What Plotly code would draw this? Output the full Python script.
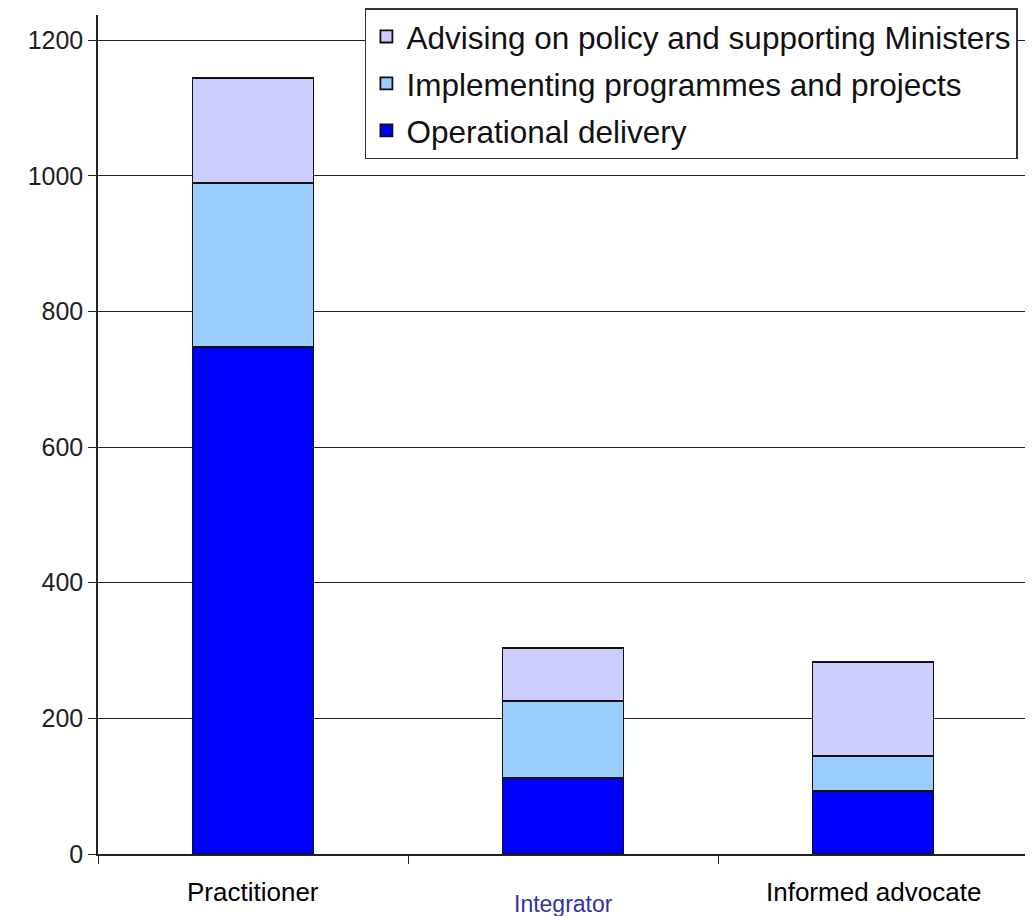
import plotly.graph_objects as go

categories = ["Practitioner", "Integrator", "Informed advocate"]
operational = [747, 112, 93]
implementing = [242, 114, 51]
advising = [155, 78, 139]
series_names = ["Operational delivery", "Implementing programmes and projects",
                "Advising on policy and supporting Ministers"]
y_ticks = [0, 200, 400, 600, 800, 1000, 1200]

colors = ["#0000ff", "#99ccff", "#ccccff"]

fig = go.Figure()
for i, (name, vals, col) in enumerate(zip(series_names, [operational, implementing, advising], colors)):
    fig.add_trace(go.Bar(
        x=categories, y=vals, name=name, legendgroup=f"g{i}",
        legendrank=1000 - i,
        marker=dict(color=col, line=dict(color="#111111", width=1.8)),
        width=0.39,
    ))

label_colors = ["#000000", "#333399", "#000000"]
label_sizes = [26, 23, 26]
label_y = [-0.045, -0.06, -0.045]
for cat, c, s, yy in zip(categories, label_colors, label_sizes, label_y):
    fig.add_annotation(x=cat, y=yy, xref="x", yref="paper", text=cat,
                       showarrow=False, yanchor="middle",
                       font=dict(family="Liberation Sans, Arial", size=s, color=c))

# small stray mark at right of legend in the original
fig.add_shape(type="rect", xref="paper", yref="paper",
              x0=0.9985, x1=1.003, y0=0.902, y1=0.918,
              fillcolor="#111111", line=dict(width=0))

fig.update_layout(
    barmode="stack",
    width=1025, height=908,
    margin=dict(l=90, r=5, t=7, b=62, autoexpand=False),
    paper_bgcolor="white", plot_bgcolor="white",
    font=dict(family="Liberation Sans, Arial", size=24, color="#222222"),
    showlegend=True,
    legend=dict(
        xref="paper", yref="container",
        x=0.287, y=1.0, xanchor="left", yanchor="top",
        traceorder="grouped",
        bordercolor="#333333", borderwidth=1.5,
        bgcolor="white",
        font=dict(size=31.5, color="#111111"),
        itemwidth=30,
        tracegroupgap=3,
    ),
    xaxis=dict(
        showticklabels=False,
        tickson="boundaries",
        ticks="outside", ticklen=8, tickcolor="#222222",
        showline=True, linecolor="#222222", linewidth=1.5,
        showgrid=False,
    ),
    yaxis=dict(
        range=[0, 1237],
        tickvals=y_ticks,
        ticks="outside", ticklen=8, tickcolor="#222222",
        showline=True, linecolor="#222222", linewidth=1.5,
        showgrid=True, gridcolor="#222222", gridwidth=1,
        zeroline=False,
        tickfont=dict(size=25, color="#222222"),
    ),
)

fig.write_html("out.html")
